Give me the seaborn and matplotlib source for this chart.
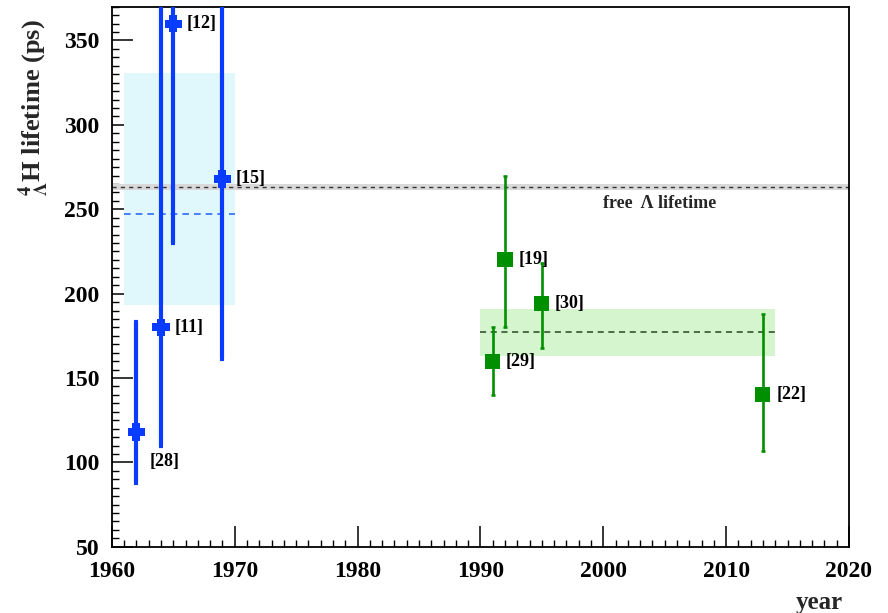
import numpy as np
import pandas as pd
import matplotlib
matplotlib.use("Agg")
import matplotlib.pyplot as plt
from matplotlib.path import Path
import seaborn as sns

# ---- data ----
blue_year = [1962, 1964, 1965, 1969]
blue_tau = [118, 180, 360, 268]
blue_err_lo = [30, 70, 130, 107]
blue_err_hi = [65, 220, 60, 132]
blue_refs = ["[28]", "[11]", "[12]", "[15]"]

green_year = [1991, 1992, 1995, 2013]
green_tau = [160, 220, 194, 140]
green_err_lo = [20, 40, 26, 33]
green_err_hi = [20, 50, 24, 48]
green_refs = ["[29]", "[19]", "[30]", "[22]"]

blue_avg = 247
blue_avg_lo = 193
blue_avg_hi = 331
blue_avg_years = [1961, 1970]

green_avg = 177
green_avg_lo = 163
green_avg_hi = 191
green_avg_years = [1990, 2014]

free_lambda = 263.2
free_lambda_err = 2.0

sns.set_theme(style="ticks")
plt.rcParams["font.family"] = ["Liberation Serif", "DejaVu Serif"]
plt.rcParams["font.weight"] = "bold"
plt.rcParams["mathtext.fontset"] = "stix"

fig = plt.figure(figsize=(8.88, 6.13), dpi=100)
ax = fig.add_axes([0.126, 0.108, 0.830, 0.881])

blue = "#0a3cff"
green = "#008f00"

# thick cross marker shape (ROOT full-cross style)
_t = 0.23
cross = Path([(-_t, 0.5), (_t, 0.5), (_t, _t), (0.5, _t), (0.5, -_t), (_t, -_t),
              (_t, -0.5), (-_t, -0.5), (-_t, -_t), (-0.5, -_t), (-0.5, _t), (-_t, _t),
              (-_t, 0.5)], closed=True)

# bands
ax.fill_between(blue_avg_years, blue_avg_lo, blue_avg_hi, color="#e0f8fb", lw=0, zorder=1)
ax.plot(blue_avg_years, [blue_avg, blue_avg], ls=(0, (4, 3)), color="#2f6bff", lw=1.2, zorder=2)
ax.fill_between(green_avg_years, green_avg_lo, green_avg_hi, color="#d4f5ce", lw=0, zorder=1)
ax.plot(green_avg_years, [green_avg, green_avg], ls=(0, (4, 3)), color="#234823", lw=1.1, zorder=2)
ax.axhspan(free_lambda - free_lambda_err, free_lambda + free_lambda_err, color="#d9d9d9", lw=0, zorder=1)
ax.axhline(free_lambda, ls=(0, (3, 3)), color="#333333", lw=1.0, zorder=2)

# error bars
ax.errorbar(blue_year, blue_tau, yerr=[blue_err_lo, blue_err_hi], fmt="none",
            ecolor=blue, elinewidth=3, capsize=1.5, capthick=3, zorder=3)
ax.errorbar(green_year, green_tau, yerr=[green_err_lo, green_err_hi], fmt="none",
            ecolor=green, elinewidth=1.9, capsize=1.3, capthick=1.9, zorder=3)

df_b = pd.DataFrame({"year": blue_year, "tau": blue_tau})
df_g = pd.DataFrame({"year": green_year, "tau": green_tau})
sns.scatterplot(data=df_b, x="year", y="tau", marker=cross, s=155, color=blue,
                edgecolor="none", ax=ax, zorder=4)
sns.scatterplot(data=df_g, x="year", y="tau", marker="s", s=118, color=green,
                edgecolor="none", ax=ax, zorder=4)

# reference labels
for x, y, t in zip(blue_year, blue_tau, blue_refs):
    off = (9.5, -21.5) if t == "[28]" else (9.5, 0)
    ax.annotate(t, (x, y), xytext=off, textcoords="offset points",
                ha="left", va="center", fontsize=13, fontweight="bold", color="black")
for x, y, t in zip(green_year, green_tau, green_refs):
    ax.annotate(t, (x, y), xytext=(9.5, 0), textcoords="offset points",
                ha="left", va="center", fontsize=13, fontweight="bold", color="black")

ax.text(2000, 253.5, "free  Λ lifetime", ha="left", va="center", fontsize=13,
        fontweight="bold")

ax.set_xlim(1960, 2020)
ax.set_ylim(50, 370)
ax.set_xticks(np.arange(1960, 2021, 10))
ax.set_yticks(np.arange(50, 351, 50))
ax.set_xticks(np.arange(1960, 2021, 1), minor=True)
ax.set_yticks(np.arange(50, 371, 5), minor=True)
ax.tick_params(axis="both", which="major", direction="in", length=15, width=1.1,
               labelsize=17, color="black", labelcolor="black")
ax.tick_params(axis="x", which="major", pad=10)
ax.tick_params(axis="y", which="major", pad=9)
ax.tick_params(axis="both", which="minor", direction="in", length=5, width=1, color="black")
ax.tick_params(top=False, right=False, which="both")
for lab in ax.get_xticklabels() + ax.get_yticklabels():
    lab.set_fontweight("bold")
for s in ax.spines.values():
    s.set_visible(True)
    s.set_color("black")
    s.set_linewidth(1.3)

ax.set_xlabel("year", loc="right", fontsize=18, fontweight="bold")
ax.set_ylabel(r"$^{4}_{\Lambda}$H lifetime (ps)", loc="top", fontsize=19,
              fontweight="bold")
ax.yaxis.set_label_coords(-0.082, 0.976)
ax.xaxis.set_label_coords(0.992, -0.082)

fig.savefig("out.png", dpi=100)
